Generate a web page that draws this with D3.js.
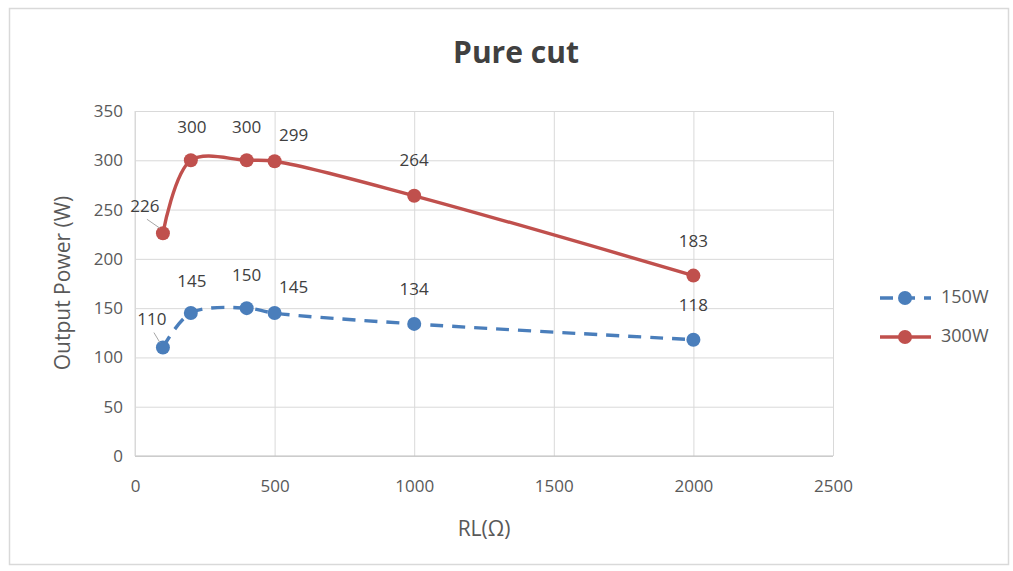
<!DOCTYPE html>
<html>
<head>
<meta charset="utf-8">
<script src="https://cdn.jsdelivr.net/npm/d3@7"></script>
<style>
  html, body { margin: 0; padding: 0; background: #ffffff; }
  svg { display: block; }
  text { font-family: "Open Sans", "Noto Sans", sans-serif; }
</style>
</head>
<body>
<svg id="chart" width="1013" height="571"></svg>
<script>
// Load resistance (Ω) on the x axis
const resistance = [100, 200, 400, 500, 1000, 2000];
// Output power (W) for each nominal setting
const power150 = [110, 145, 150, 145, 134, 118];
const power300 = [226, 300, 300, 299, 264, 183];
const seriesNames = ["150W", "300W"];
const xTicks = [0, 500, 1000, 1500, 2000, 2500];
const yTicks = [0, 50, 100, 150, 200, 250, 300, 350];

// Label placement offsets (dx, dy) from each point, in pixels
const labelOffset150 = [[-11, -27], [1, -31], [0, -32], [19, -25], [0, -33], [0, -33]];
const labelOffset300 = [[-18, -26], [1, -32], [0, -32], [19, -25], [0, -34], [0, -33]];

const svg = d3.select("#chart");
const plot = { left: 135, right: 833, top: 111, bottom: 456 };

// Outer chart frame
svg.append("rect")
  .attr("x", 9.5).attr("y", 8.5).attr("width", 999).attr("height", 556)
  .attr("fill", "#ffffff").attr("stroke", "#d9d9d9").attr("stroke-width", 1.5);

const x = d3.scaleLinear().domain([0, 2500]).range([plot.left, plot.right]);
const y = d3.scaleLinear().domain([0, 350]).range([plot.bottom, plot.top]);

// Gridlines
svg.append("g")
  .attr("transform", `translate(0,${plot.bottom})`)
  .call(d3.axisBottom(x).tickValues(xTicks).tickSize(-(plot.bottom - plot.top)).tickFormat(""))
  .call(g => g.select(".domain").remove())
  .call(g => g.selectAll("line").attr("stroke", "#d9d9d9").attr("stroke-width", 1));
svg.append("g")
  .attr("transform", `translate(${plot.left},0)`)
  .call(d3.axisLeft(y).tickValues(yTicks).tickSize(-(plot.right - plot.left)).tickFormat(""))
  .call(g => g.select(".domain").remove())
  .call(g => g.selectAll("line").attr("stroke", "#d9d9d9").attr("stroke-width", 1));

// Axis lines
svg.append("line").attr("x1", plot.left).attr("x2", plot.right)
  .attr("y1", plot.bottom).attr("y2", plot.bottom).attr("stroke", "#bfbfbf").attr("stroke-width", 1.2);
svg.append("line").attr("x1", plot.left).attr("x2", plot.left)
  .attr("y1", plot.top).attr("y2", plot.bottom).attr("stroke", "#d9d9d9").attr("stroke-width", 1);

// Tick labels
const xAxis = svg.append("g")
  .attr("transform", `translate(0,${plot.bottom})`)
  .call(d3.axisBottom(x).tickValues(xTicks).tickSize(0).tickPadding(24).tickFormat(d3.format("d")));
xAxis.select(".domain").remove();
xAxis.selectAll("text").attr("font-size", 17).attr("fill", "#595959")
  .attr("font-family", "'Open Sans', sans-serif");

const yAxis = svg.append("g")
  .attr("transform", `translate(${plot.left},0)`)
  .call(d3.axisLeft(y).tickValues(yTicks).tickSize(0).tickPadding(12).tickFormat(d3.format("d")));
yAxis.select(".domain").remove();
yAxis.selectAll("text").attr("font-size", 17).attr("fill", "#595959")
  .attr("font-family", "'Open Sans', sans-serif");

// Title and axis titles
svg.append("text").attr("x", 516).attr("y", 63).attr("text-anchor", "middle")
  .attr("font-size", 30).attr("font-weight", "bold").attr("fill", "#404040")
  .text("Pure cut");
svg.append("text").attr("x", 484).attr("y", 536).attr("text-anchor", "middle")
  .attr("font-size", 21).attr("fill", "#595959").text("RL(Ω)");
svg.append("text").attr("transform", "translate(70,283) rotate(-90)").attr("text-anchor", "middle")
  .attr("font-size", 21).attr("fill", "#595959").text("Output Power (W)");

const blue = "#4a7ebb", red = "#c0504d";

const data150 = resistance.map((r, i) => ({ r, v: power150[i], off: labelOffset150[i] }));
const data300 = resistance.map((r, i) => ({ r, v: power300[i], off: labelOffset300[i] }));

const line = d3.line().x(d => x(d.r)).y(d => y(d.v)).curve(d3.curveCatmullRom.alpha(0.5));

svg.append("path").datum(data150).attr("d", line)
  .attr("fill", "none").attr("stroke", blue).attr("stroke-width", 3.4)
  .attr("stroke-dasharray", "13,9");
svg.append("path").datum(data300).attr("d", line)
  .attr("fill", "none").attr("stroke", red).attr("stroke-width", 3.4);

function drawPoints(data, color) {
  svg.append("g").selectAll("circle").data(data).join("circle")
    .attr("cx", d => x(d.r)).attr("cy", d => y(d.v)).attr("r", 7)
    .attr("fill", color);
}
drawPoints(data150, blue);
drawPoints(data300, red);

// Leader lines for the labels pulled away from the first points
function leader(d) {
  const px = x(d.r), py = y(d.v);
  svg.append("line")
    .attr("x1", px + d.off[0] + 2).attr("y1", py + d.off[1] + 12)
    .attr("x2", px - 3).attr("y2", py - 5)
    .attr("stroke", "#a6a6a6").attr("stroke-width", 1);
}
leader(data150[0]);
leader(data300[0]);

function drawLabels(data) {
  svg.append("g").selectAll("text").data(data).join("text")
    .attr("x", d => x(d.r) + d.off[0]).attr("y", d => y(d.v) + d.off[1])
    .attr("text-anchor", "middle").attr("dominant-baseline", "middle")
    .attr("font-size", 17).attr("fill", "#404040")
    .text(d => d.v);
}
drawLabels(data150);
drawLabels(data300);

// Legend
const legend = svg.append("g");
[[seriesNames[0], blue, "13,9", 298], [seriesNames[1], red, null, 337]].forEach(([name, color, dash, ly]) => {
  const ln = legend.append("line").attr("x1", 880).attr("x2", 931).attr("y1", ly).attr("y2", ly)
    .attr("stroke", color).attr("stroke-width", 3.4);
  if (dash) ln.attr("stroke-dasharray", dash);
  legend.append("circle").attr("cx", 905).attr("cy", ly).attr("r", 7).attr("fill", color);
  legend.append("text").attr("x", 941).attr("y", ly).attr("dominant-baseline", "middle")
    .attr("font-size", 18).attr("fill", "#595959").text(name);
});
</script>
</body>
</html>
